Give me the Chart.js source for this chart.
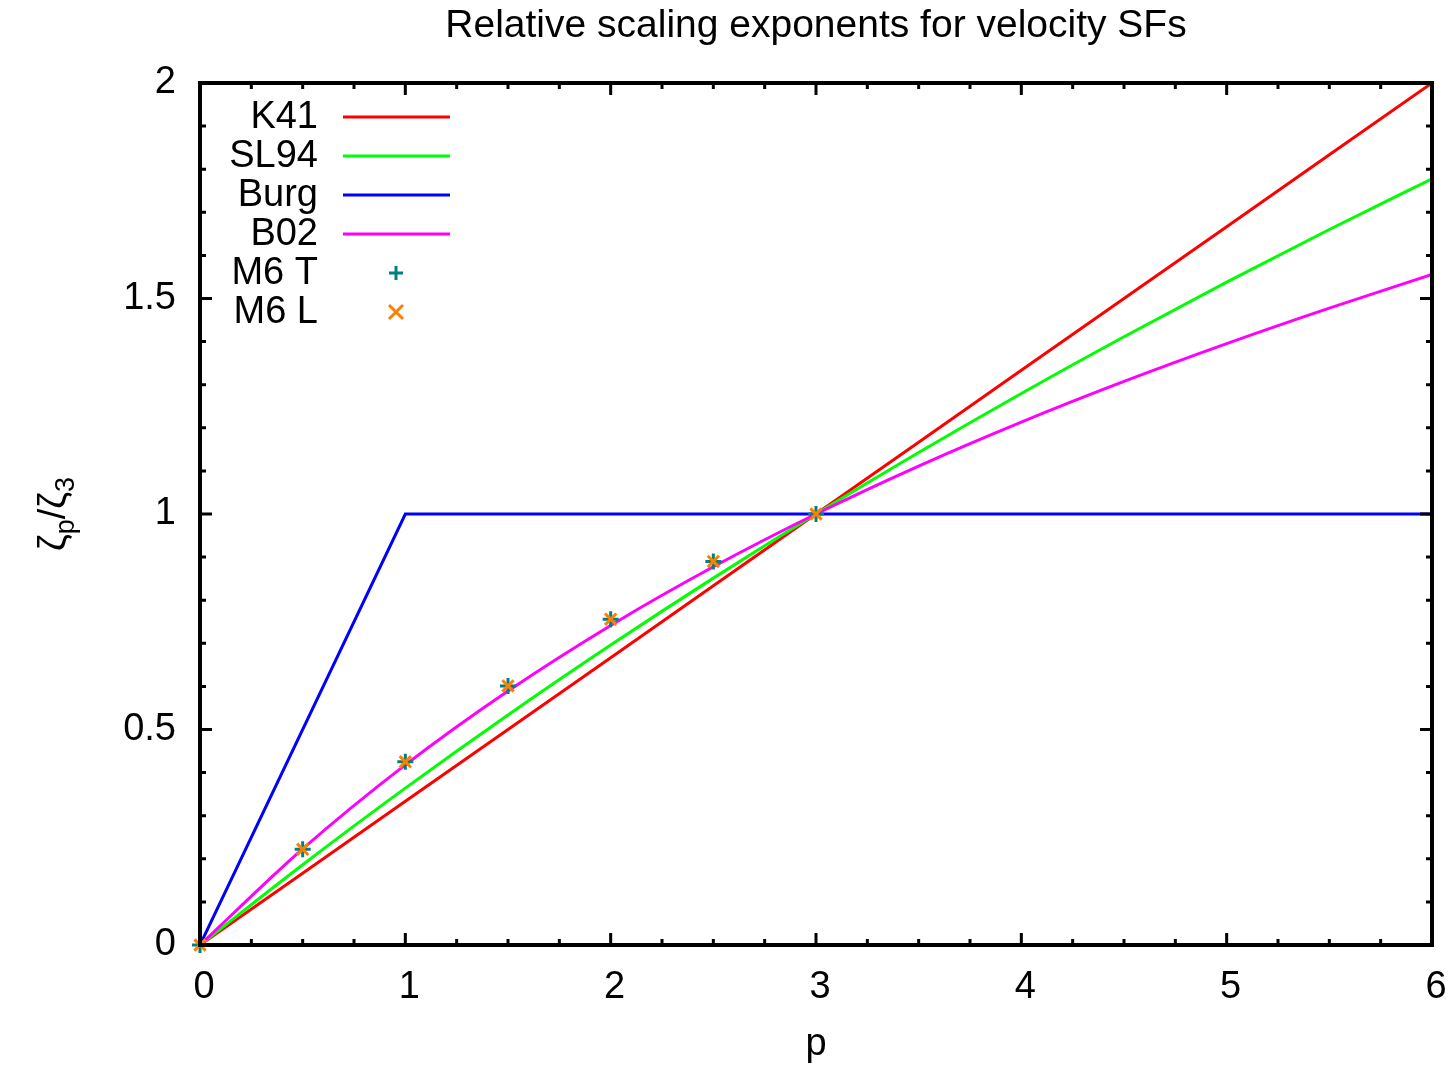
<!DOCTYPE html>
<html>
<head>
<meta charset="utf-8">
<script src="https://cdn.jsdelivr.net/npm/chart.js@4.4.0/dist/chart.umd.min.js"></script>
<style>
  body { margin: 0; background: #fff; }
  canvas { display: block; }
</style>
</head>
<body>
<canvas id="sfChart" width="1450" height="1065"></canvas>
<script>
// p grid for the model curves
const pGrid = [0, 0.5, 1, 1.5, 2, 2.5, 3, 3.5, 4, 4.5, 5, 5.5, 6];
const k41 = [0, 0.1667, 0.3333, 0.5, 0.6667, 0.8333, 1, 1.1667, 1.3333, 1.5, 1.6667, 1.8333, 2];
const sl94 = [0, 0.1863, 0.3640, 0.5337, 0.6959, 0.8512, 1, 1.1427, 1.2797, 1.4113, 1.5380, 1.6601, 1.7778];
const b02 = [0, 0.2229, 0.4178, 0.5893, 0.7415, 0.8775, 1, 1.1113, 1.2133, 1.3076, 1.3953, 1.4777, 1.5556];
const burgP = [0, 1, 6];
const burg = [0, 1, 1];
// measured points
const m6P = [0, 0.5, 1, 1.5, 2, 2.5, 3];
const m6T = [0, 0.222, 0.425, 0.601, 0.756, 0.890, 1];
const m6L = [0, 0.222, 0.425, 0.601, 0.756, 0.890, 1];

const FONT = '"Liberation Sans", Arial, sans-serif';

function pts(xs, ys) {
  return xs.map((x, i) => ({ x: x, y: ys[i] }));
}

function lineSet(label, xs, ys, color, order, smooth) {
  return {
    label: label,
    data: pts(xs, ys),
    borderColor: color,
    backgroundColor: color,
    borderWidth: 3,
    pointRadius: 0,
    tension: 0,
    cubicInterpolationMode: smooth ? 'monotone' : 'default',
    fill: false,
    order: order
  };
}

function pointSet(label, xs, ys, color, style, order) {
  return {
    label: label,
    data: pts(xs, ys),
    showLine: false,
    borderColor: color,
    backgroundColor: color,
    borderWidth: 3,
    pointStyle: style,
    pointRadius: 8,
    clip: false,
    order: order
  };
}

// gnuplot-like frame, inward ticks, title, axis labels and key
const gnuFrame = {
  id: 'gnuFrame',
  afterDatasetsDraw(chart) {
    const ctx = chart.ctx;
    const a = chart.chartArea;
    const xs = chart.scales.x;
    const ys = chart.scales.y;
    ctx.save();
    ctx.strokeStyle = '#000';
    ctx.lineWidth = 3;
    ctx.lineCap = 'butt';
    // x ticks
    for (let i = 0; i <= 24; i++) {
      const v = i * 0.25;
      const len = (i % 4 === 0) ? 12 : 6;
      const px = xs.getPixelForValue(v);
      ctx.beginPath();
      ctx.moveTo(px, a.bottom); ctx.lineTo(px, a.bottom - len);
      ctx.moveTo(px, a.top); ctx.lineTo(px, a.top + len);
      ctx.stroke();
    }
    // y ticks
    for (let i = 0; i <= 20; i++) {
      const v = i * 0.1;
      const len = (i % 5 === 0) ? 12 : 6;
      const py = ys.getPixelForValue(v);
      ctx.beginPath();
      ctx.moveTo(a.left, py); ctx.lineTo(a.left + len, py);
      ctx.moveTo(a.right, py); ctx.lineTo(a.right - len, py);
      ctx.stroke();
    }
    ctx.lineWidth = 4;
    ctx.strokeRect(a.left, a.top, a.right - a.left, a.bottom - a.top);

    // title
    ctx.fillStyle = '#000';
    ctx.font = '39px ' + FONT;
    ctx.textAlign = 'center';
    ctx.textBaseline = 'middle';
    ctx.fillText('Relative scaling exponents for velocity SFs', (a.left + a.right) / 2, 26);

    // x label
    ctx.font = '38px ' + FONT;
    ctx.fillText('p', (a.left + a.right) / 2, 1045);

    // y label with subscripts
    const big = '38px ' + FONT;
    const small = '27px ' + FONT;
    const parts = [['ζ', big, 0], ['p', small, 9], ['/', big, 0], ['ζ', big, 0], ['3', small, 9]];
    let total = 0;
    parts.forEach(pt => { ctx.font = pt[1]; total += ctx.measureText(pt[0]).width; });
    ctx.translate(52, (a.top + a.bottom) / 2);
    ctx.rotate(-Math.PI / 2);
    ctx.textAlign = 'left';
    ctx.textBaseline = 'alphabetic';
    let cx = -total / 2;
    parts.forEach(pt => {
      ctx.font = pt[1];
      ctx.fillText(pt[0], cx, 13 + pt[2]);
      cx += ctx.measureText(pt[0]).width;
    });
    ctx.restore();

    // key
    ctx.save();
    ctx.font = '38px ' + FONT;
    ctx.textAlign = 'right';
    ctx.textBaseline = 'middle';
    chart.data.datasets.forEach((ds, i) => {
      const y = 117 + i * 39;
      ctx.fillStyle = '#000';
      ctx.fillText(ds.label, 318, y + 1);
      ctx.strokeStyle = ds.borderColor;
      ctx.lineWidth = 3;
      ctx.beginPath();
      if (ds.showLine === false) {
        const c = 396, r = 7;
        if (ds.pointStyle === 'cross') {
          ctx.moveTo(c - r, y); ctx.lineTo(c + r, y);
          ctx.moveTo(c, y - r); ctx.lineTo(c, y + r);
        } else {
          ctx.moveTo(c - r, y - r); ctx.lineTo(c + r, y + r);
          ctx.moveTo(c - r, y + r); ctx.lineTo(c + r, y - r);
        }
      } else {
        ctx.moveTo(343, y); ctx.lineTo(450, y);
      }
      ctx.stroke();
    });
    ctx.restore();
  }
};

new Chart(document.getElementById('sfChart').getContext('2d'), {
  type: 'line',
  data: {
    datasets: [
      lineSet('K41', pGrid, k41, '#ff0000', 6, false),
      lineSet('SL94', pGrid, sl94, '#00ff00', 5, true),
      lineSet('Burg', burgP, burg, '#0000ff', 4, false),
      lineSet('B02', pGrid, b02, '#ff00ff', 3, true),
      pointSet('M6 T', m6P, m6T, '#008080', 'cross', 2),
      pointSet('M6 L', m6P, m6L, '#ff8000', 'crossRot', 1)
    ]
  },
  options: {
    responsive: false,
    animation: false,
    layout: { padding: { top: 83, right: 0, left: 0, bottom: 0 } },
    plugins: {
      legend: { display: false },
      title: { display: false },
      tooltip: { enabled: false }
    },
    scales: {
      x: {
        type: 'linear',
        min: 0,
        max: 6,
        grid: { display: false, drawTicks: false },
        border: { display: false },
        ticks: { stepSize: 1, color: '#000', padding: 20, labelOffset: 4, font: { size: 38, family: FONT } },
        afterFit(scale) {
          scale.height = 120;
          scale.paddingRight = 18;
          scale.paddingLeft = 0;
        }
      },
      y: {
        type: 'linear',
        min: 0,
        max: 2,
        grid: { display: false, drawTicks: false },
        border: { display: false },
        ticks: {
          stepSize: 0.5, color: '#000', padding: 24, font: { size: 38, family: FONT },
          callback: (v) => String(v)
        },
        afterFit(scale) { scale.width = 200; }
      }
    }
  },
  plugins: [gnuFrame]
});
</script>
</body>
</html>
